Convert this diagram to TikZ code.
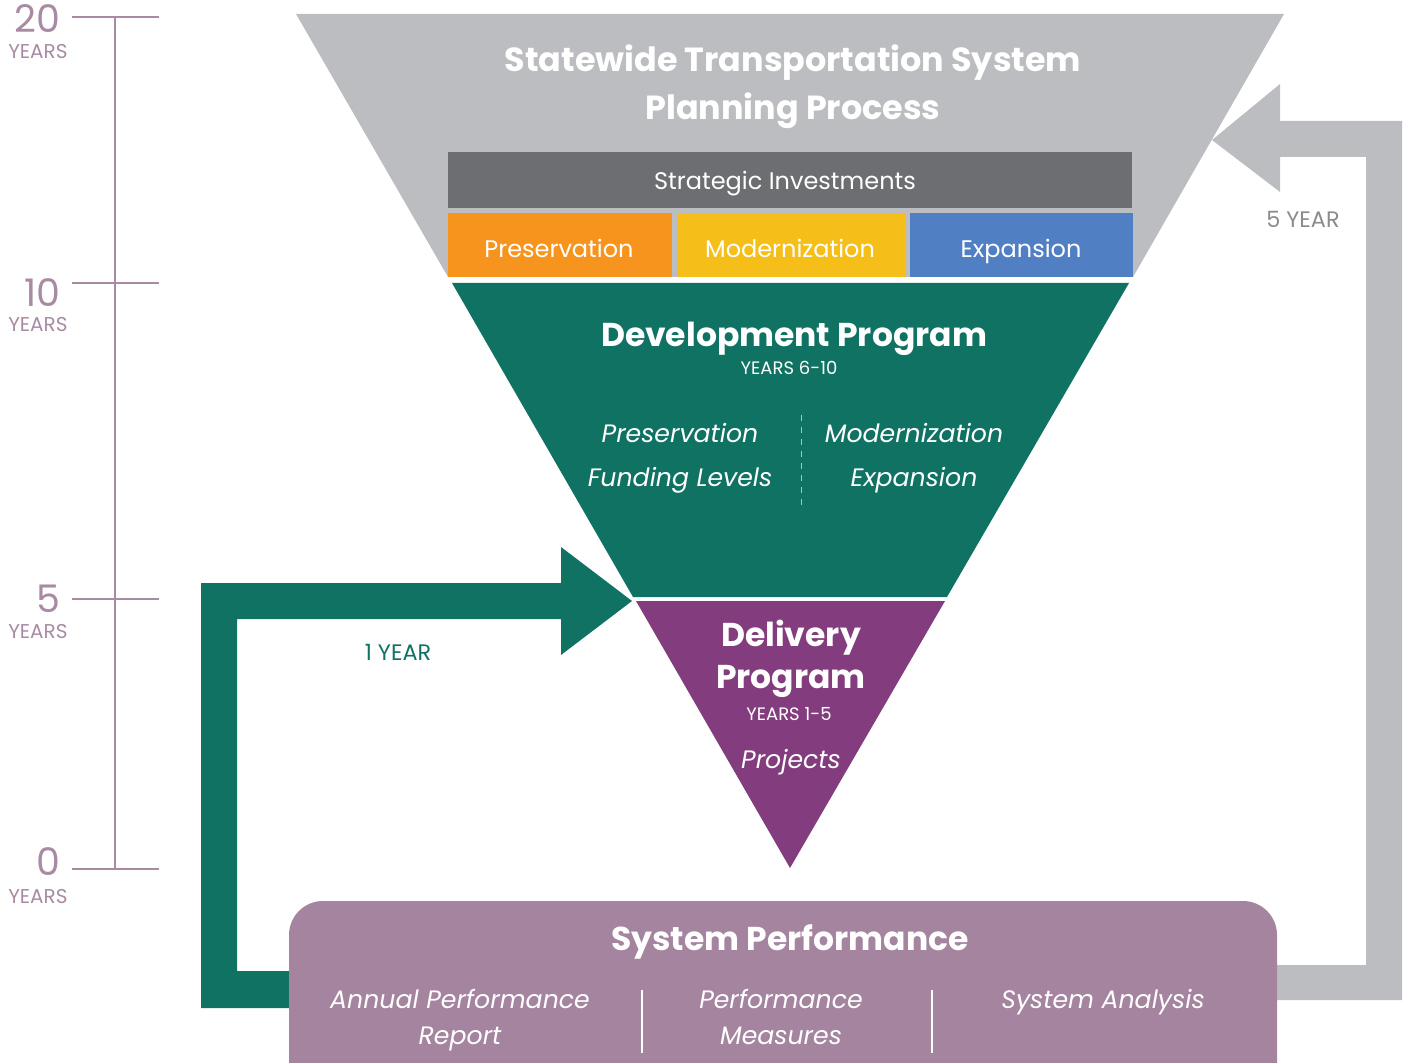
\documentclass[tikz,border=0pt]{standalone}
\usepackage{fontspec}
\setmainfont{Poppins}
\definecolor{funnelgray}{HTML}{BCBDC0}
\definecolor{bargray}{HTML}{6D6E71}
\definecolor{presorange}{HTML}{F7941E}
\definecolor{modyellow}{HTML}{F5BE18}
\definecolor{expblue}{HTML}{517FC3}
\definecolor{devgreen}{HTML}{107263}
\definecolor{delpurple}{HTML}{833D7E}
\definecolor{perfpurple}{HTML}{A5849F}
\definecolor{tlcolor}{HTML}{A88BA3}
\definecolor{yeargray}{HTML}{8A8B8D}
\begin{document}
\begin{tikzpicture}[x=0.5pt,y=-0.5pt,
  wtxt/.style={text=white, inner sep=0pt, text height=0.7em, text depth=0.1em},
  boldtitle/.style={wtxt, font=\bfseries\fontsize{16.5}{19}\selectfont},
  toptitle/.style={wtxt, font=\bfseries\fontsize{16.7}{19}\selectfont},
  plain/.style={wtxt, font=\fontsize{12}{14}\selectfont},
  ital/.style={wtxt, font=\itshape\fontsize{12.6}{15}\selectfont},
  small/.style={wtxt, font=\fontsize{9}{11}\selectfont},
  tick/.style={draw=tlcolor, line width=1.2pt},
  bignum/.style={text=tlcolor, inner sep=0pt, anchor=east, text height=0.7em, text depth=0pt, font=\fontsize{19}{21}\selectfont},
  yrs/.style={text=tlcolor, inner sep=0pt, anchor=east, text height=0.7em, text depth=0pt, font=\fontsize{10}{12}\selectfont},
  divider/.style={draw=white, line width=1pt}]
\useasboundingbox (0,0) rectangle (1406,1063);
\clip (0,0) rectangle (1406,1063);

% ---- timeline ----
\coordinate (t20) at (115,17);
\coordinate (t0) at (115,869);
\draw[tick] (t20) -- (t0);
\foreach \y in {17, 283, 599, 869}{
  \draw[tick] (72,\y) -- (159,\y);
}
\node[bignum] (n20) at (61,26) {20};
\node[yrs] (y20) at (68,52) {YEARS};
\node[bignum] (n10) at (61,300) {10};
\node[yrs] (y10) at (68,325) {YEARS};
\node[bignum] (n5) at (61,605) {5};
\node[yrs] (y5) at (68,631) {YEARS};
\node[bignum] (n0) at (61,868) {0};
\node[yrs] (y0) at (68,896) {YEARS};

% ---- feedback arrows ----
\fill[devgreen] (300,971) -- (237,971) -- (237,619) -- (561,619) -- (561,655)
  -- (632,601) -- (561,547) -- (561,583) -- (201,583) -- (201,1008) -- (300,1008) -- cycle;
\fill[funnelgray] (1260,965) -- (1366,965) -- (1366,157) -- (1280,157) -- (1280,192)
  -- (1212,140) -- (1280,84) -- (1280,121) -- (1402,121) -- (1402,1000) -- (1260,1000) -- cycle;
\node[wtxt, text=devgreen, font=\fontsize{11.2}{13}\selectfont] (oneyear) at (398,654) {1 YEAR};
\node[wtxt, text=yeargray, font=\fontsize{11.2}{13}\selectfont] (fiveyear) at (1303,222) {5 YEAR};

% ---- funnel ----
\fill[funnelgray] (296,14) -- (1284,14) -- (1133,277) -- (448,277) -- cycle;
\fill[bargray] (448,152) rectangle (1132,208);
\fill[presorange] (448,213) rectangle (672,277);
\fill[modyellow] (677,213) rectangle (906,277);
\fill[expblue] (910,213) rectangle (1133,277);
\fill[devgreen] (452,283) -- (1129,283) -- (947,597) -- (633,597) -- cycle;
\fill[delpurple] (636,601) -- (945,601) -- (790,868) -- cycle;

\node[toptitle] (stsp1) at (793,66) {Statewide Transportation System};
\node[toptitle] (stsp2) at (793,114) {Planning Process};
\node[plain] (si) at (785,184) {Strategic Investments};
\node[plain] (pres) at (559,252) {Preservation};
\node[plain] (mod) at (790,252) {Modernization};
\node[plain] (exp) at (1021,252) {Expansion};

\node[boldtitle] (dev) at (794,341) {Development Program};
\node[small] (dev610) at (789,369) {YEARS 6-10};
\node[ital] (presfund1) at (680,437) {Preservation};
\node[ital] (presfund2) at (680,480) {Funding Levels};
\node[ital] (modexp1) at (914,437) {Modernization};
\node[ital] (modexp2) at (914,480) {Expansion};
\draw[white, dashed, line width=0.5pt, opacity=0.6] (801,415) -- (801,508);

\node[boldtitle] (del1) at (791,640) {Delivery};
\node[boldtitle] (del2) at (791,682) {Program};
\node[small] (del15) at (789,714) {YEARS 1-5};
\node[ital] (proj) at (791,762) {Projects};

% ---- system performance ----
\fill[perfpurple, rounded corners=17pt] (289,901) rectangle (1277,1110);
\node[boldtitle] (sysperf) at (790,944) {System Performance};
\node[ital] (apr1) at (460,1002) {Annual Performance};
\node[ital] (apr2) at (460,1038) {Report};
\node[ital] (pm1) at (781,1002) {Performance};
\node[ital] (pm2) at (781,1038) {Measures};
\node[ital] (sa) at (1103,1002) {System Analysis};
\draw[divider] (642,990) -- (642,1053);
\draw[divider] (932,990) -- (932,1053);
\end{tikzpicture}
\end{document}
